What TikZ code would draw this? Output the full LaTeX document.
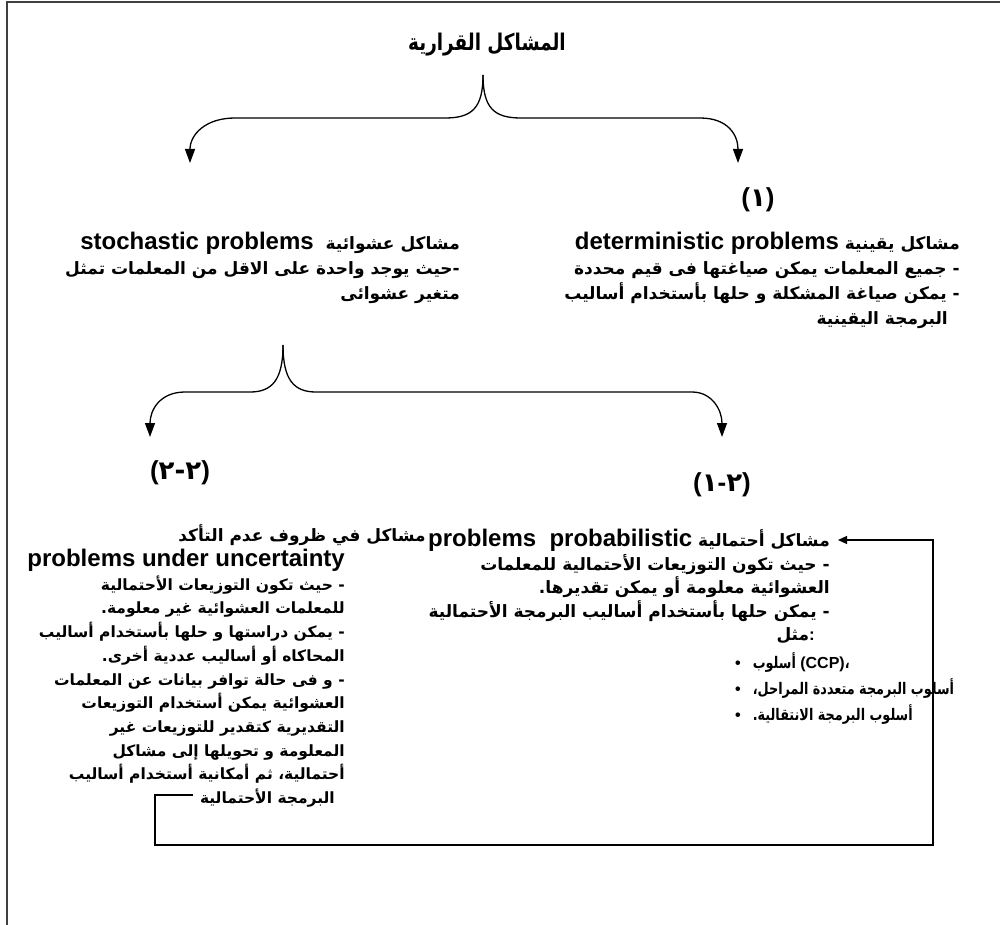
\documentclass[tikz,border=0pt]{standalone}
\usepackage{fontspec}
\setmainfont{Liberation Sans}
\newfontfamily\arabicfont[Script=Arabic]{DejaVu Sans}
\newfontfamily\arabicnarrow[Script=Arabic, FakeStretch=0.8]{DejaVu Sans}
\TeXXeTstate=1
\usetikzlibrary{arrows.meta}
\newcommand{\ar}[1]{{\arabicfont\beginR #1\endR}}
\newcommand{\arn}[1]{{\arabicnarrow\beginR #1\endR}}
\newcommand{\en}[1]{\beginL{\rmfamily\fontsize{24}{25}\selectfont #1}\endL}

\begin{document}
\begin{tikzpicture}[x=1pt, y=-1pt,
    txt/.style={inner sep=0pt, font=\bfseries\fontsize{17}{25}\selectfont, align=right},
    lst/.style={inner sep=0pt, font=\bfseries\fontsize{16}{25}\selectfont},
    num/.style={inner sep=0pt, font=\bfseries\fontsize{26}{28}\selectfont},
    link/.style={line width=1.3pt},
    >={Triangle[length=14pt, width=10pt]}
  ]
  \useasboundingbox (0,0) rectangle (1000,925);

  % Frame
  \draw[line width=2pt, black!75] (1000,2) -- (7,2) -- (7,925);

  % Title
  \node[inner sep=0pt, font=\bfseries\fontsize{23}{26}\selectfont] (title) at (487,45)
    {\arn{المشاكل القرارية}};

  % First level
  \node[num] (n1) at (758,200) {({\arabicfont ١})};
  \node[txt, anchor=north east] (det) at (960,232) {%
    \ar{مشاكل يقينية \en{deterministic problems}}\\
    \ar{- جميع المعلمات يمكن صياغتها فى قيم محددة}\\
    \ar{- يمكن صياغة المشكلة و حلها بأستخدام أساليب}\\
    \ar{البرمجة اليقينية}\hspace*{12pt}};
  \node[txt, anchor=north east] (sto) at (460,232) {%
    \ar{مشاكل عشوائية\ \ \en{stochastic problems}}\\
    \ar{-حيث يوجد واحدة على الاقل من المعلمات تمثل}\\
    \ar{متغير عشوائى}};

  % Second level
  \node[num] (n22) at (180,473) {({\arabicfont ٢-٢})};
  \node[num] (n21) at (722,485) {({\arabicfont ١}-{\arabicfont ٢})};
  \node[txt] (unchead) at (302,535) {\ar{مشاكل في ظروف عدم التأكد}};
  \node[txt, anchor=north east, font=\bfseries\fontsize{15.5}{23.7}\selectfont]
    (unc) at (345,549) {%
    \en{problems under uncertainty}\\
    \ar{- حيث تكون التوزيعات الأحتمالية}\\
    \ar{للمعلمات العشوائية غير معلومة.}\hspace*{10pt}\\
    \ar{- يمكن دراستها و حلها بأستخدام أساليب}\\
    \ar{المحاكاه أو أساليب عددية أخرى.}\hspace*{10pt}\\
    \ar{- و فى حالة توافر بيانات عن المعلمات}\\
    \ar{العشوائية يمكن أستخدام التوزيعات}\hspace*{10pt}\\
    \ar{التقديرية كتقدير للتوزيعات غير}\hspace*{10pt}\\
    \ar{المعلومة و تحويلها إلى مشاكل}\hspace*{10pt}\\
    \ar{أحتمالية، ثم أمكانية أستخدام أساليب}\hspace*{10pt}\\
    \ar{البرمجة الأحتمالية}\hspace*{10pt}};
  \node[txt, anchor=north east, font=\bfseries\fontsize{17}{23.5}\selectfont]
    (prb) at (830,529) {%
    \ar{مشاكل أحتمالية \en{problems\ \ probabilistic}}\\
    \ar{- حيث تكون التوزيعات الأحتمالية للمعلمات}\\
    \ar{العشوائية معلومة أو يمكن تقديرها.}\hspace*{18pt}\\
    \ar{- يمكن حلها بأستخدام أساليب البرمجة الأحتمالية}\\
    {\arabicfont\beginR مثل\endR}:\hspace*{15pt}};
  \node[lst, anchor=north west] (mth) at (735,651) {%
    \begin{tabular}{@{}c@{\hspace{12pt}}l@{}}
      \textbullet & {\arabicnarrow\beginR أسلوب\endR} (CCP){\arabicnarrow ،}\\[1pt]
      \textbullet & \arn{أسلوب البرمجة متعددة المراحل،}\\[1pt]
      \textbullet & \arn{أسلوب البرمجة الانتقالية.}
    \end{tabular}};

  % Braces
  \coordinate (apexA) at (483,75);
  \coordinate (stoTop) at (190,163);
  \coordinate (detTop) at (738,163);
  \draw[link, ->] (apexA) .. controls (483,108) and (472,118) .. (445,118)
    -- (235,118) .. controls (205,118) and (190,135) .. (stoTop);
  \draw[link, ->] (apexA) .. controls (483,108) and (494,118) .. (521,118)
    -- (700,118) .. controls (728,118) and (738,135) .. (detTop);
  \coordinate (apexB) at (283,345);
  \coordinate (n22Top) at (150,437);
  \coordinate (n21Top) at (722,437);
  \draw[link, ->] (apexB) .. controls (283,380) and (272,392) .. (250,392)
    -- (185,392) .. controls (160,392) and (150,410) .. (n22Top);
  \draw[link, ->] (apexB) .. controls (283,380) and (294,392) .. (316,392)
    -- (692,392) .. controls (712,392) and (722,410) .. (n21Top);

  % Feedback link
  \coordinate (uncEnd) at (193,795);
  \coordinate (prbIn) at (838,540);
  \draw[link, -{Triangle[length=9pt, width=8pt]}] (uncEnd) -- (155,795)
    -- (155,845) -- (933,845) -- (933,540) -- (prbIn);
\end{tikzpicture}
\end{document}
